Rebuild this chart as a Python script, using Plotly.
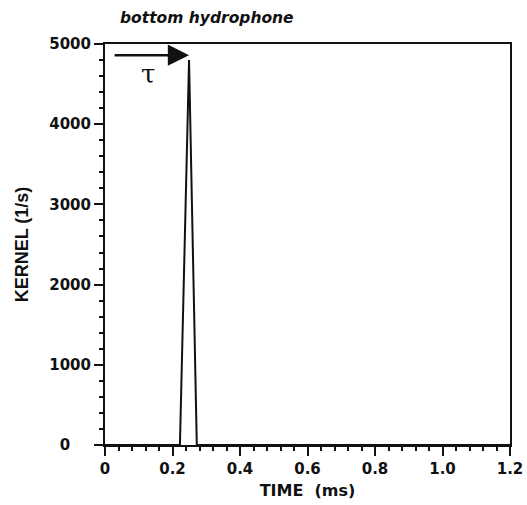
import plotly.graph_objects as go

time_ms = [0.0, 0.222, 0.249, 0.272, 1.2]
kernel = [0, 0, 4800, 0, 0]
x_ticks = [0, 0.2, 0.4, 0.6, 0.8, 1.0, 1.2]
x_ticklabels = ["0", "0.2", "0.4", "0.6", "0.8", "1.0", "1.2"]
y_ticks = [0, 1000, 2000, 3000, 4000, 5000]
y_ticklabels = ["0\u2007\u2007", "1000", "2000", "3000", "4000", "5000"]
arrow_tail = (0.024, 4860)
arrow_head = (0.249, 4860)
tau_pos = (0.128, 4620)

ink = "#111"
dv = "DejaVu Sans, sans-serif"
lib = "Liberation Sans, Arial, sans-serif"

fig = go.Figure()
fig.add_trace(go.Scatter(x=time_ms, y=kernel, mode="lines",
                         line=dict(color=ink, width=2), showlegend=False))

fig.add_annotation(x=arrow_head[0], y=arrow_head[1], ax=arrow_tail[0], ay=arrow_tail[1],
                   xref="x", yref="y", axref="x", ayref="y", text="",
                   showarrow=True, arrowhead=2, arrowsize=1.7, arrowwidth=2.5, arrowcolor=ink,
                   standoff=0)
fig.add_annotation(x=tau_pos[0], y=tau_pos[1], xref="x", yref="y", text="τ", showarrow=False,
                   font=dict(family="DejaVu Serif, serif", size=26, color=ink))
fig.add_annotation(x=(118 - 105) / 405, y=1 + (44 - 18) / 401, xref="paper", yref="paper",
                   text="<b><i>bottom hydrophone</i></b>", showarrow=False,
                   xanchor="left", yanchor="middle",
                   font=dict(family=dv, size=15.5, color=ink))

fig.update_layout(
    width=527, height=505,
    margin=dict(l=105, r=17, t=44, b=60, autoexpand=False),
    paper_bgcolor="white", plot_bgcolor="white",
    font=dict(family=dv, color=ink),
)

fig.update_xaxes(range=[0, 1.2], tickvals=x_ticks, ticktext=x_ticklabels, automargin=False,
                 showgrid=False, zeroline=False, showline=True, linecolor=ink, linewidth=2,
                 mirror=True, ticks="outside", ticklen=9, tickwidth=2, tickcolor=ink,
                 minor=dict(dtick=0.04, ticks="outside", ticklen=4, tickwidth=1.5, tickcolor=ink),
                 tickfont=dict(family=dv, size=15, weight="bold", color=ink),
                 title=dict(text="<b>TIME  (ms)</b>", font=dict(family=dv, size=16, color=ink), standoff=8))
fig.update_yaxes(range=[0, 5000], tickvals=y_ticks, ticktext=y_ticklabels, automargin=False,
                 showgrid=False, zeroline=False, showline=True, linecolor=ink, linewidth=2,
                 mirror=True, ticks="outside", ticklen=9, tickwidth=2, tickcolor=ink,
                 minor=dict(dtick=200, ticks="outside", ticklen=4, tickwidth=1.5, tickcolor=ink),
                 tickfont=dict(family=dv, size=15, weight="bold", color=ink),
                 title=dict(text="<b>KERNEL (1/s)</b>", font=dict(family=lib, size=18, color=ink), standoff=16))

fig.write_html("out.html")
